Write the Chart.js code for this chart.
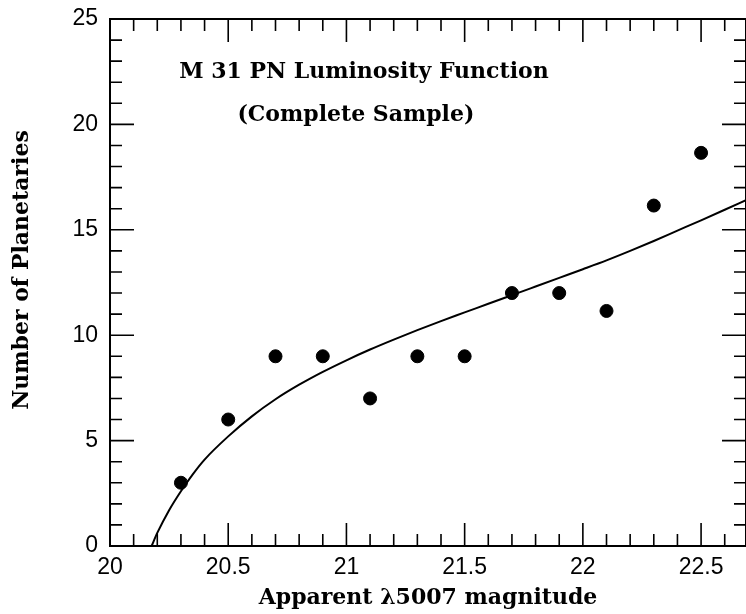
<!DOCTYPE html>
<html lang="en">
  <head>
    <meta charset="UTF-8" />
    <title>M 31 PN Luminosity Function</title>
    <script src="https://cdn.jsdelivr.net/npm/chart.js"></script>
    <style>
      html, body {
        margin: 0;
        padding: 0;
        background: #fff;
      }
      canvas {
        display: block;
      }
    </style>
  </head>
  <body>
    <canvas id="plfChart" width="746" height="614"></canvas>
    <script>
      // observed counts per 0.2 mag bin
      const binMags = [20.3, 20.5, 20.7, 20.9, 21.1, 21.3, 21.5, 21.7, 21.9, 22.1, 22.3, 22.5];
      const binCounts = [3, 6, 9, 9, 7, 9, 9, 12, 12, 11.15, 16.15, 18.65];

      // fitted luminosity function
      const fitMags = [20.176, 20.2, 20.25, 20.3, 20.35, 20.4, 20.5, 20.6, 20.7, 20.8, 20.9, 21.0, 21.1, 21.2, 21.3, 21.4, 21.5, 21.6, 21.7, 21.8, 21.9, 22.0, 22.1, 22.2, 22.3, 22.4, 22.5, 22.6, 22.69];
      const fitCounts = [0, 0.62, 1.7, 2.6, 3.4, 4.1, 5.2, 6.15, 6.96, 7.65, 8.26, 8.81, 9.32, 9.79, 10.24, 10.67, 11.08, 11.49, 11.9, 12.31, 12.72, 13.13, 13.55, 14.0, 14.47, 14.96, 15.45, 15.95, 16.41];

      const xTicks = [20, 20.5, 21, 21.5, 22, 22.5];
      const yTicks = [0, 5, 10, 15, 20, 25];

      const serif = "'DejaVu Serif', serif";
      const sans = "'Liberation Sans', Arial, sans-serif";

      // box frame with inward ticks on all four sides, plus the text labels
      const framePlugin = {
        id: "framePlugin",
        afterDraw(chart) {
          const { ctx, chartArea: a, scales } = chart;
          const xs = scales.x;
          const ys = scales.y;
          ctx.save();
          ctx.strokeStyle = "#000";
          ctx.lineWidth = 2;
          ctx.strokeRect(a.left, a.top, a.right - a.left, a.bottom - a.top);

          ctx.lineWidth = 1.6;
          ctx.beginPath();
          for (let i = 0; 20 + i / 10 <= xs.max + 1e-6; i++) {
            const px = xs.getPixelForValue(20 + i / 10);
            const len = i % 5 === 0 ? 23 : 12;
            ctx.moveTo(px, a.bottom);
            ctx.lineTo(px, a.bottom - len);
            ctx.moveTo(px, a.top);
            ctx.lineTo(px, a.top + len);
          }
          for (let j = 0; j <= 25; j++) {
            const py = ys.getPixelForValue(j);
            const len = j % 5 === 0 ? 24 : 12;
            ctx.moveTo(a.left, py);
            ctx.lineTo(a.left + len, py);
            ctx.moveTo(a.right, py);
            ctx.lineTo(a.right - len, py);
          }
          ctx.stroke();

          ctx.fillStyle = "#000";
          ctx.textAlign = "center";
          ctx.textBaseline = "middle";
          ctx.font = "bold 22px " + serif;
          ctx.fillText("M 31 PN Luminosity Function", xs.getPixelForValue(21.074), ys.getPixelForValue(22.49));
          ctx.fillText("(Complete Sample)", xs.getPixelForValue(21.04), ys.getPixelForValue(20.45));

          ctx.translate(22, 270);
          ctx.rotate(-Math.PI / 2);
          ctx.fillText("Number of Planetaries", 0, 0);
          ctx.restore();
        },
      };

      const ctx = document.getElementById("plfChart").getContext("2d");
      const plfChart = new Chart(ctx, {
        type: "scatter",
        data: {
          datasets: [
            {
              label: "Fit",
              type: "line",
              data: fitMags.map((m, i) => ({ x: m, y: fitCounts[i] })),
              borderColor: "#000",
              borderWidth: 2,
              pointRadius: 0,
              fill: false,
              cubicInterpolationMode: "monotone",
            },
            {
              label: "Counts",
              data: binMags.map((m, i) => ({ x: m, y: binCounts[i] })),
              backgroundColor: "#000",
              borderColor: "#000",
              pointRadius: 6.5,
            },
          ],
        },
        plugins: [framePlugin],
        options: {
          responsive: false,
          animation: false,
          layout: { autoPadding: false, padding: { top: 19, right: 0, left: 0, bottom: 0 } },
          plugins: {
            legend: { display: false },
            tooltip: { enabled: false },
          },
          scales: {
            x: {
              type: "linear",
              min: 20,
              max: 22.69,
              afterBuildTicks: (scale) => {
                scale.ticks = xTicks.map((v) => ({ value: v }));
              },
              afterFit: (scale) => {
                scale.height = 68;
                scale.paddingLeft = 0;
                scale.paddingRight = 0;
              },
              grid: { display: false, drawTicks: false },
              border: { display: false },
              ticks: {
                color: "#000",
                padding: 8,
                font: { family: sans, size: 23 },
                maxRotation: 0,
                autoSkip: false,
                callback: (v) => String(v),
              },
              title: {
                display: true,
                text: "Apparent λ5007 magnitude",
                color: "#000",
                font: { family: serif, size: 22, weight: "bold" },
                padding: { top: 0, bottom: 3 },
              },
            },
            y: {
              min: 0,
              max: 25,
              afterBuildTicks: (scale) => {
                scale.ticks = yTicks.map((v) => ({ value: v }));
              },
              afterFit: (scale) => {
                scale.width = 110;
                scale.paddingTop = 0;
                scale.paddingBottom = 0;
              },
              grid: { display: false, drawTicks: false },
              border: { display: false },
              ticks: {
                color: "#000",
                padding: 12,
                font: { family: sans, size: 23 },
              },
            },
          },
        },
      });
    </script>
  </body>
</html>
